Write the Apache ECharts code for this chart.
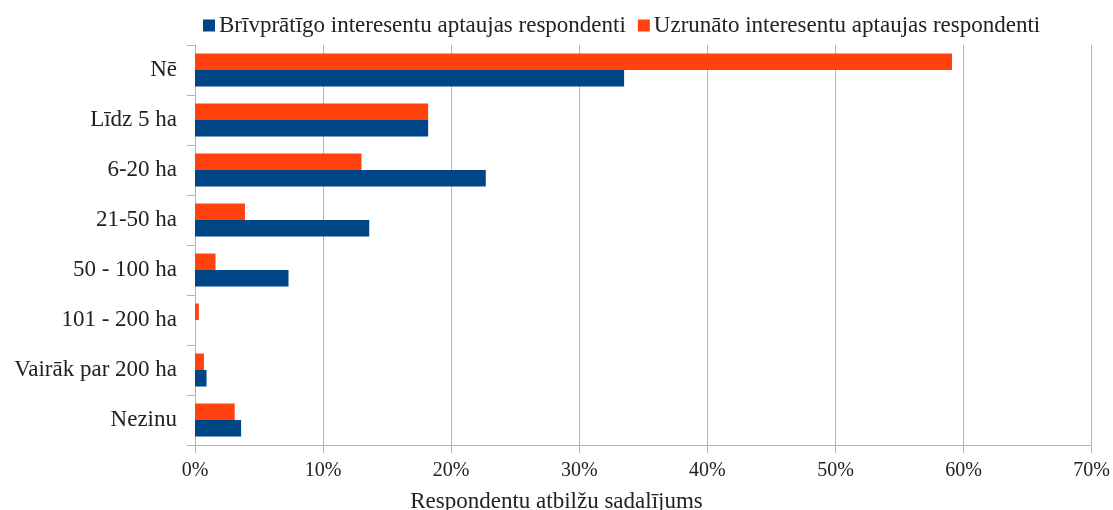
<!DOCTYPE html>
<html>
<head>
<meta charset="utf-8">
<script src="https://cdn.jsdelivr.net/npm/echarts@6/dist/echarts.min.js"></script>
<style>
  html, body { margin: 0; padding: 0; background: #fff; }
  #chart { width: 1113px; height: 510px; }
</style>
</head>
<body>
<div id="chart"></div>
<script>
// kategorijas no augšas uz leju
const categories = ['Nē', 'Līdz 5 ha', '6-20 ha', '21-50 ha', '50 - 100 ha', '101 - 200 ha', 'Vairāk par 200 ha', 'Nezinu']
const seriesNames = ['Brīvprātīgo interesentu aptaujas respondenti', 'Uzrunāto interesentu aptaujas respondenti']
const brivpratigo = [33.5, 18.2, 22.7, 13.6, 7.3, 0, 0.9, 3.6]
const uzrunato = [59.1, 18.2, 13.0, 3.9, 1.6, 0.3, 0.7, 3.1]
const xTicks = [0, 10, 20, 30, 40, 50, 60, 70]

const font = 'Liberation Serif'
const chart = echarts.init(document.getElementById('chart'))

const option = {
  animation: false,
  textStyle: { fontFamily: font },
  title: {
    text: 'Respondentu atbilžu sadalījums',
    left: 'center',
    top: 485,
    textStyle: { fontFamily: font, fontSize: 23, fontWeight: 'normal', color: '#222' }
  },
  legend: {
    top: 9,
    left: 198,
    itemWidth: 12,
    itemHeight: 12,
    itemGap: 12,
    icon: 'rect',
    textStyle: { fontFamily: font, fontSize: 23, color: '#222', padding: [0, 0, 0, -1] },
    data: seriesNames
  },
  grid: { left: 195, right: 21, top: 45, bottom: 65, containLabel: false },
  xAxis: {
    type: 'value',
    min: xTicks[0],
    max: xTicks[xTicks.length - 1],
    interval: 10,
    axisLine: { show: true, lineStyle: { color: '#b3b3b3', width: 1 } },
    axisTick: { show: true, length: 8, lineStyle: { color: '#b3b3b3' } },
    splitLine: { show: true, lineStyle: { color: '#b3b3b3', width: 1 } },
    axisLabel: {
      formatter: v => v + '%',
      fontSize: 20,
      color: '#222',
      margin: 16
    }
  },
  yAxis: {
    type: 'category',
    data: categories,
    inverse: true,
    axisLine: { show: true, lineStyle: { color: '#b3b3b3', width: 1 } },
    axisTick: { show: true, length: 8, lineStyle: { color: '#b3b3b3' } },
    axisLabel: { fontSize: 23, color: '#222', margin: 18 }
  },
  series: [
    {
      name: seriesNames[1],
      type: 'bar',
      data: uzrunato,
      itemStyle: { color: '#ff420e' },
      barGap: '0%',
      barCategoryGap: '34%'
    },
    {
      name: seriesNames[0],
      type: 'bar',
      data: brivpratigo,
      itemStyle: { color: '#004586' },
      barGap: '0%',
      barCategoryGap: '34%'
    }
  ]
}
chart.setOption(option)
</script>
</body>
</html>
